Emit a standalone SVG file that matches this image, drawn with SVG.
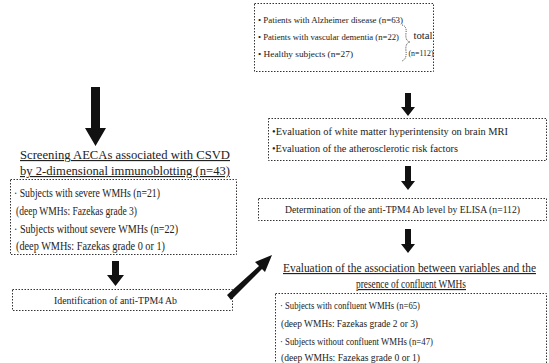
<svg xmlns="http://www.w3.org/2000/svg" width="549" height="363" viewBox="0 0 549 363" font-family="'Liberation Serif','Times New Roman',serif">
<style>
.box{fill:#fff;stroke:#333;stroke-width:1;stroke-dasharray:1.5 1.5}
text{font-family:"Liberation Serif","Times New Roman",serif;font-size:10.5px;fill:#222}
.l{font-size:11.5px}
.t{font-size:9.2px}
.u{text-decoration:underline}
.arr{fill:#111}
</style>
<rect width="549" height="363" fill="#fff"/>
<g id="top">
<rect class="box" x="254.5" y="3.5" width="179" height="68"/>
<text class="t" x="258" y="23" textLength="145" lengthAdjust="spacingAndGlyphs">• Patients with Alzheimer disease (n=63)</text>
<text class="t" x="258" y="40" textLength="141" lengthAdjust="spacingAndGlyphs">• Patients with vascular dementia (n=22)</text>
<text class="t" x="258" y="57" textLength="95" lengthAdjust="spacingAndGlyphs">• Healthy subjects (n=27)</text>
<path d="M402 25 Q407 26 406 33 Q405 41 410 42 Q405 43 406 51 Q407 59 402 61" fill="none" stroke="#333" stroke-width="0.9" stroke-dasharray="1 1"/>
<text x="423" y="39" text-anchor="middle" textLength="19" lengthAdjust="spacingAndGlyphs" style="font-size:9.5px">total</text>
<text x="421" y="56" text-anchor="middle" textLength="25" lengthAdjust="spacingAndGlyphs" style="font-size:9px">(n=112)</text>
</g>
<g id="screening">
<text class="u l" x="20" y="159" textLength="210" lengthAdjust="spacingAndGlyphs">Screening AECAs associated with CSVD</text>
<text class="u l" x="20" y="175" textLength="210" lengthAdjust="spacingAndGlyphs">by 2-dimensional immunoblotting (n=43)</text>
</g>
<g id="leftbox">
<rect class="box" x="10.5" y="179.5" width="226" height="75"/>
<text class="l" x="14" y="197" textLength="146" lengthAdjust="spacingAndGlyphs">· Subjects with severe WMHs (n=21)</text>
<text class="l" x="16" y="215" textLength="121" lengthAdjust="spacingAndGlyphs">(deep WMHs: Fazekas grade 3)</text>
<text class="l" x="14" y="233" textLength="164" lengthAdjust="spacingAndGlyphs">· Subjects without severe WMHs (n=22)</text>
<text class="l" x="16" y="250" textLength="149" lengthAdjust="spacingAndGlyphs">(deep WMHs: Fazekas grade 0 or 1)</text>
</g>
<g id="identification">
<rect class="box" x="12.5" y="289.5" width="220" height="21"/>
<text x="54" y="304" textLength="123" lengthAdjust="spacingAndGlyphs">Identification of anti-TPM4 Ab</text>
</g>
<g id="evaluation">
<rect class="box" x="268.5" y="118.5" width="278" height="42"/>
<text x="272" y="135" textLength="236" lengthAdjust="spacingAndGlyphs">•Evaluation of white matter hyperintensity on brain MRI</text>
<text x="272" y="152" textLength="186" lengthAdjust="spacingAndGlyphs">•Evaluation of the atherosclerotic risk factors</text>
</g>
<g id="elisa">
<rect class="box" x="258.5" y="198.5" width="288" height="22"/>
<text x="285" y="213" textLength="235" lengthAdjust="spacingAndGlyphs">Determination of the anti-TPM4 Ab level by ELISA (n=112)</text>
</g>
<g id="association">
<text class="u l" x="283" y="272" textLength="253" lengthAdjust="spacingAndGlyphs">Evaluation of the association between variables and the</text>
<text class="u l" x="356" y="288" textLength="110" lengthAdjust="spacingAndGlyphs">presence of confluent WMHs</text>
</g>
<g id="confluent">
<rect class="box" x="275.5" y="293.5" width="271" height="72"/>
<text x="280" y="309" textLength="140" lengthAdjust="spacingAndGlyphs">· Subjects with confluent WMHs (n=65)</text>
<text x="281" y="327" textLength="137" lengthAdjust="spacingAndGlyphs">(deep WMHs: Fazekas grade 2 or 3)</text>
<text x="280" y="345" textLength="153" lengthAdjust="spacingAndGlyphs">· Subjects without confluent WMHs (n=47)</text>
<text x="281" y="361" textLength="139" lengthAdjust="spacingAndGlyphs">(deep WMHs: Fazekas grade 0 or 1)</text>
</g>
<g id="connectors">
<polygon class="arr" points="91,87 100,87 100,128 106,128 95.5,146 85,128 91,128"/>
<polygon class="arr" points="405,93 411,93 411,107 415,107 408,116 401,107 405,107"/>
<polygon class="arr" points="405,166 411,166 411,181 415,181 408,190 401,181 405,181"/>
<polygon class="arr" points="405,229 411,229 411,244 415,244 408,253 401,244 405,244"/>
<polygon class="arr" points="112,261 119,261 119,275 124,275 115.5,286 107,275 112,275"/>
<polygon class="arr" points="227,295 259,266 255,262 272,255 265,272 262,269 231,300"/>
</g>
</svg>
